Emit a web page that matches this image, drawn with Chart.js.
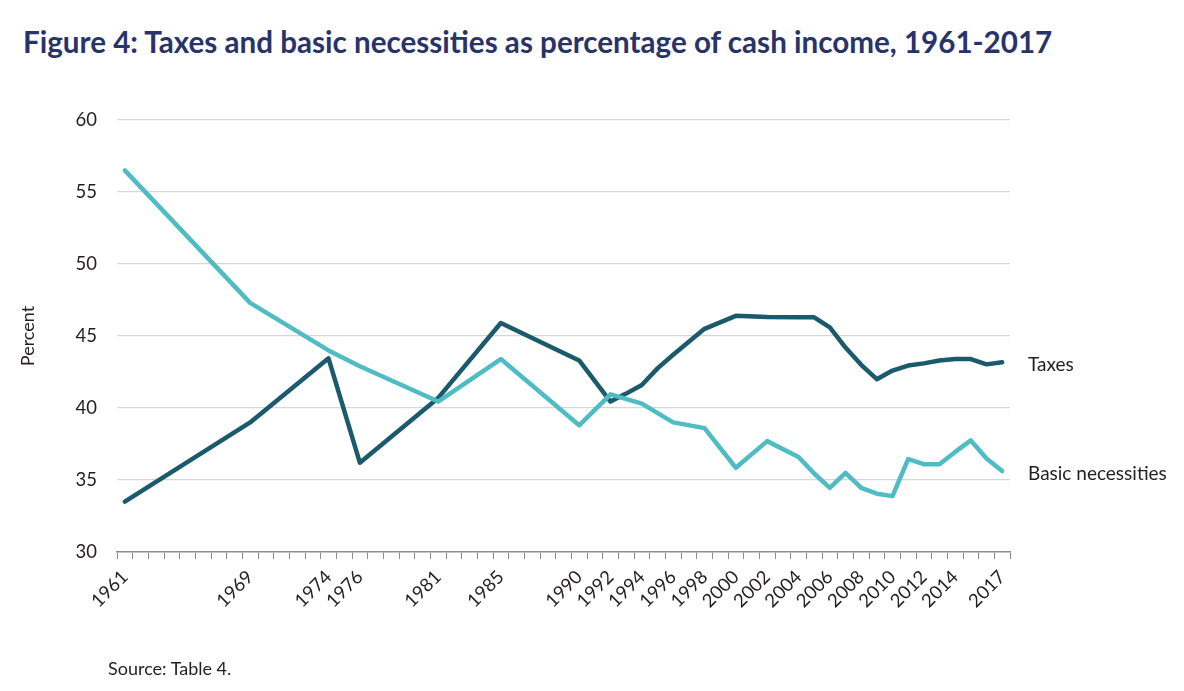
<!DOCTYPE html>
<html>
<head>
<meta charset="utf-8">
<script src="https://cdn.jsdelivr.net/npm/chart.js@4.4.0/dist/chart.umd.min.js"></script>
<style>
  html, body { margin: 0; padding: 0; background: #fff; }
  body { width: 1184px; height: 691px; position: relative; overflow: hidden; font-family: Lato, "Open Sans", sans-serif; }
  #title { position: absolute; left: 23px; top: 24px; margin: 0; font-size: 29.6px; font-weight: 700; color: #283469; white-space: nowrap; }
  #source { position: absolute; left: 108px; top: 657px; margin: 0; font-size: 18px; color: #231f20; }
  #wrap { position: absolute; left: 0; top: 0; width: 1184px; height: 691px; }
</style>
</head>
<body>
<h1 id="title">Figure 4: Taxes and basic necessities as percentage of cash income, 1961-2017</h1>
<div id="wrap"><canvas id="chart"></canvas></div>
<p id="source">Source: Table 4.</p>
<script>
// Jahre mit Werten (Steuern)
const taxYears = [1961, 1969, 1974, 1976, 1981, 1985, 1990, 1992, 1993, 1994, 1995, 1996, 1997, 1998, 1999,
  2000, 2002, 2004, 2005, 2006, 2007, 2008, 2009, 2010, 2011, 2012, 2013, 2014, 2015, 2016, 2017];
const taxes = [33.5, 39.0, 43.45, 36.2, 40.7, 45.9, 43.3, 40.45, 41.0, 41.6, 42.75, 43.7, 44.6, 45.5, 45.95,
  46.4, 46.32, 46.3, 46.3, 45.6, 44.2, 43.0, 42.0, 42.6, 42.95, 43.1, 43.3, 43.4, 43.4, 43.03, 43.17];

// Jahre mit Werten (Grundbedarf)
const necYears = [1961, 1969, 1974, 1976, 1981, 1985, 1990, 1992, 1994, 1996, 1998, 2000, 2002, 2004,
  2005, 2006, 2007, 2008, 2009, 2010, 2011, 2012, 2013, 2014, 2015, 2016, 2017];
const necessities = [56.5, 47.3, 44.0, 42.9, 40.45, 43.4, 38.8, 40.95, 40.3, 39.0, 38.6, 35.85, 37.7, 36.6,
  35.45, 34.45, 35.5, 34.45, 34.05, 33.88, 36.45, 36.1, 36.1, 36.95, 37.75, 36.5, 35.62];

// Beschriftete Jahre auf der x-Achse
const shownYears = [1961, 1969, 1974, 1976, 1981, 1985, 1990, 1992, 1994, 1996, 1998, 2000, 2002, 2004,
  2006, 2008, 2010, 2012, 2014, 2017];

const seriesNames = ['Basic necessities', 'Taxes'];
const firstYear = 1961;
const lastYear = 2017;

// Kategorien: jedes Jahr ein Strich
const categories = [];
for (let y = firstYear; y <= lastYear; y++) categories.push(String(y));

const toPoints = (years, values) => years.map((yr, i) => ({ x: String(yr), y: values[i] }));

const textColor = '#231f20';

// Beschriftung am Ende der Linien
const endLabels = {
  id: 'endLabels',
  afterDatasetsDraw(chart) {
    const { ctx, chartArea } = chart;
    ctx.save();
    ctx.font = '19px Lato, "Open Sans", sans-serif';
    ctx.fillStyle = textColor;
    ctx.textBaseline = 'middle';
    ctx.textAlign = 'left';
    chart.data.datasets.forEach((ds, i) => {
      const meta = chart.getDatasetMeta(i);
      const last = meta.data[meta.data.length - 1];
      ctx.fillText(ds.label, chartArea.right + 18, last.y + 3);
    });
    ctx.restore();
  }
};

new Chart(document.getElementById('chart').getContext('2d'), {
  type: 'line',
  data: {
    labels: categories,
    datasets: [
      {
        label: seriesNames[0],
        data: toPoints(necYears, necessities),
        borderColor: '#4fbcc4',
        borderWidth: 4.5,
        pointRadius: 0,
        tension: 0,
        borderJoinStyle: 'round',
        borderCapStyle: 'round'
      },
      {
        label: seriesNames[1],
        data: toPoints(taxYears, taxes),
        borderColor: '#1b5a6c',
        borderWidth: 4.5,
        pointRadius: 0,
        tension: 0,
        borderJoinStyle: 'round',
        borderCapStyle: 'round'
      }
    ]
  },
  options: {
    responsive: true,
    maintainAspectRatio: false,
    animation: false,
    layout: { padding: { top: 120, right: 174, bottom: 0, left: 0 } },
    plugins: {
      legend: { display: false },
      tooltip: { enabled: false }
    },
    scales: {
      x: {
        type: 'category',
        offset: true,
        afterFit: (scale) => { scale.height = 139; },
        grid: {
          offset: true,
          drawOnChartArea: false,
          drawTicks: true,
          tickLength: 7,
          color: '#8c8c8c'
        },
        border: { display: true, color: '#8c8c8c', width: 1.5 },
        ticks: {
          autoSkip: false,
          minRotation: 45,
          maxRotation: 45,
          padding: 7,
          color: textColor,
          font: { family: 'Lato, "Open Sans", sans-serif', size: 18.5 },
          callback: function (value) {
            const lbl = this.getLabelForValue(value);
            return shownYears.includes(Number(lbl)) ? lbl : '';
          }
        }
      },
      y: {
        min: 30,
        max: 60,
        afterFit: (scale) => { scale.width = 117; },
        grid: {
          drawTicks: false,
          color: (ctx) => ctx.tick && ctx.tick.value === 30 ? 'rgba(0,0,0,0)' : '#d6d6d6',
          lineWidth: 1.2
        },
        border: { display: false },
        ticks: {
          stepSize: 5,
          padding: 20,
          color: textColor,
          font: { family: 'Lato, "Open Sans", sans-serif', size: 18.5 }
        },
        title: {
          display: true,
          text: 'Percent',
          color: textColor,
          padding: { top: 17, bottom: 0 },
          font: { family: 'Lato, "Open Sans", sans-serif', size: 18 }
        }
      }
    }
  },
  plugins: [endLabels]
});
</script>
</body>
</html>
